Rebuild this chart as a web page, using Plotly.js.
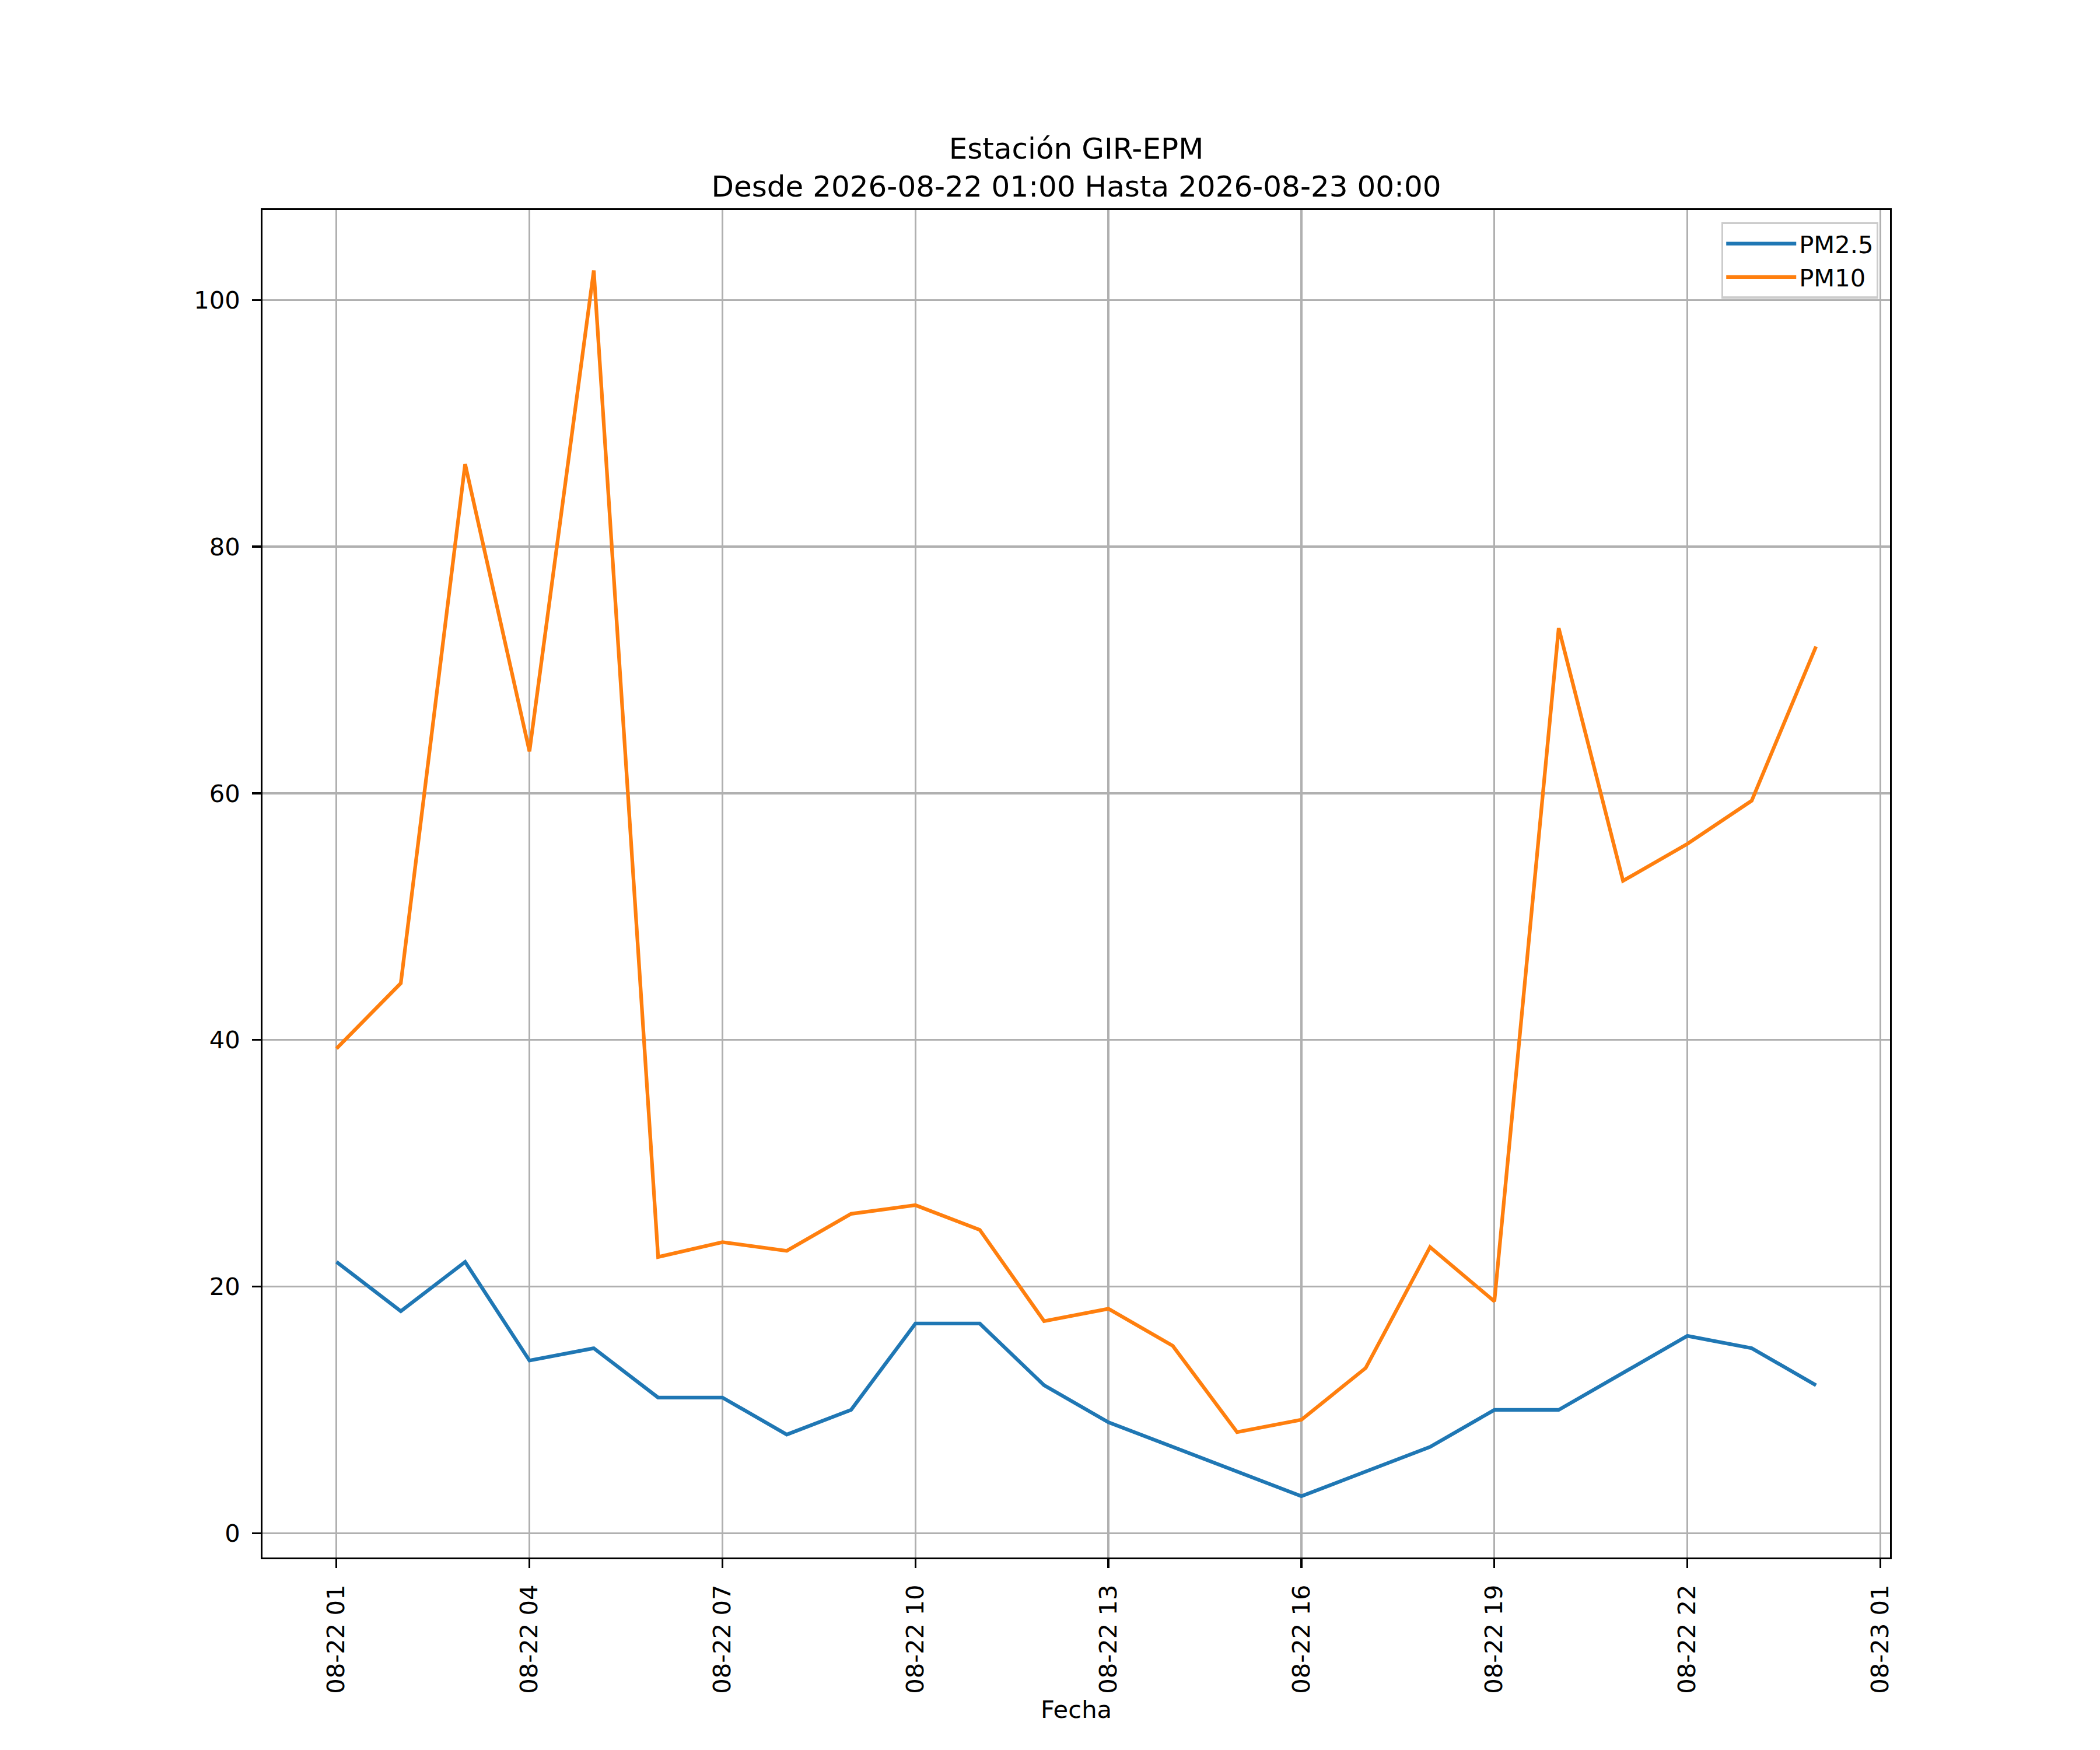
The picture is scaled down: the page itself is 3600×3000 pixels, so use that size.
<!DOCTYPE html>
<html>
<head>
<meta charset="utf-8">
<script src="https://cdn.plot.ly/plotly-3.0.1.min.js"></script>
<style>
  body { margin: 0; background: #ffffff; }
  #chart { width: 3600px; height: 3000px; }
</style>
</head>
<body>
<div id="chart"></div>
<script>
// hourly readings, 2026-08-22 01:00 -> 2026-08-23 00:00
var horas = [
  '2026-08-22 01:00', '2026-08-22 02:00', '2026-08-22 03:00', '2026-08-22 04:00',
  '2026-08-22 05:00', '2026-08-22 06:00', '2026-08-22 07:00', '2026-08-22 08:00',
  '2026-08-22 09:00', '2026-08-22 10:00', '2026-08-22 11:00', '2026-08-22 12:00',
  '2026-08-22 13:00', '2026-08-22 14:00', '2026-08-22 15:00', '2026-08-22 16:00',
  '2026-08-22 17:00', '2026-08-22 18:00', '2026-08-22 19:00', '2026-08-22 20:00',
  '2026-08-22 21:00', '2026-08-22 22:00', '2026-08-22 23:00', '2026-08-23 00:00'
];

var pm25 = [22, 18, 22, 14, 15, 11, 11, 8, 10, 17, 17, 12,
            9, 7, 5, 3, 5, 7, 10, 10, 13, 16, 15, 12];

var pm10 = [39.3, 44.6, 86.7, 63.4, 102.4, 22.4, 23.6, 22.9, 25.9, 26.6, 24.6, 17.2,
            18.2, 15.2, 8.2, 9.2, 13.4, 23.2, 18.8, 73.4, 52.9, 55.9, 59.4, 71.9];

var titulo = 'Estación GIR-EPM<br>Desde 2026-08-22 01:00 Hasta 2026-08-23 00:00';

var fuente = 'DejaVu Sans, sans-serif';
var pt = 300 / 72; // figure was drawn at 300 dpi

var data = [
  {
    x: horas, y: pm25, name: 'PM2.5', type: 'scatter', mode: 'lines',
    line: {color: '#1f77b4', width: 1.5 * pt}
  },
  {
    x: horas, y: pm10, name: 'PM10', type: 'scatter', mode: 'lines',
    line: {color: '#ff7f0e', width: 1.5 * pt}
  }
];

var ejeComun = {
  showline: true,
  mirror: true,
  linecolor: '#000000',
  linewidth: 0.8 * pt,
  showgrid: true,
  gridcolor: '#b0b0b0',
  gridwidth: 0.8 * pt,
  zeroline: false,
  ticks: 'outside',
  ticklen: 3.5 * pt,
  tickwidth: 0.8 * pt,
  tickcolor: '#000000',
  ticklabelstandoff: 12,
  tickfont: {family: fuente, size: 10 * pt, color: '#000000'}
};

var layout = {
  width: 3600,
  height: 3000,
  paper_bgcolor: '#ffffff',
  plot_bgcolor: '#ffffff',
  margin: {l: 450, r: 360, t: 360, b: 330, pad: 0},
  font: {family: fuente, size: 10 * pt, color: '#000000'},
  showlegend: true,
  title: {
    text: titulo,
    font: {family: fuente, size: 12 * pt, color: '#000000'},
    xref: 'paper', x: 0.5, xanchor: 'center',
    yref: 'paper', y: 1, yanchor: 'bottom',
    pad: {b: 88}
  },
  xaxis: Object.assign({}, ejeComun, {
    type: 'date',
    range: ['2026-08-21 23:51', '2026-08-23 01:09'],
    tick0: '2026-08-22 01:00',
    dtick: 3 * 3600 * 1000,
    tickformat: '%m-%d %H',
    tickangle: -90,
    title: {text: 'Fecha', font: {family: fuente, size: 10 * pt, color: '#000000'}, standoff: 14}
  }),
  yaxis: Object.assign({}, ejeComun, {
    range: [-1.97, 107.3],
    tick0: 0,
    dtick: 20
  }),
  legend: {
    x: 0.9928, xanchor: 'right',
    y: 0.991, yanchor: 'top',
    bgcolor: 'rgba(255,255,255,0.8)',
    bordercolor: '#cccccc',
    borderwidth: 0.8 * pt,
    font: {family: fuente, size: 10 * pt, color: '#000000'},
    itemwidth: 120,
    tracegroupgap: 0
  }
};

Plotly.newPlot('chart', data, layout, {displayModeBar: false, staticPlot: true});
</script>
</body>
</html>
